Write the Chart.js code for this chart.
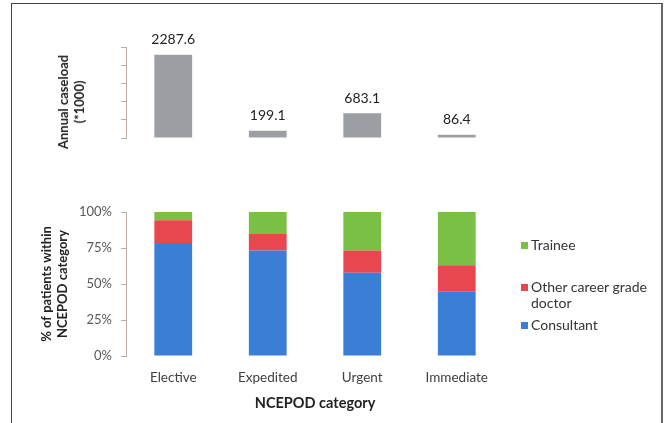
<!DOCTYPE html>
<html>
<head>
<meta charset="utf-8">
<script src="https://cdn.jsdelivr.net/npm/chart.js@4"></script>
<style>
  body { margin: 0; background: #fff; }
  #wrap { position: relative; width: 670px; height: 423px; overflow: hidden; font-family: Lato, sans-serif; }
  #frame { position: absolute; left: 11px; top: 3px; width: 649px; height: 440px; border: 1px solid #444; border-right: 2px solid #666; }
  #topBox { position: absolute; left: 0; top: 0; width: 670px; height: 175px; }
  #botBox { position: absolute; left: 0; top: 190px; width: 670px; height: 233px; }
  #topTitle { position: absolute; left: 71px; top: 102px; transform: translate(-50%, -50%) rotate(-90deg);
    white-space: nowrap; text-align: center; font-size: 13px; font-weight: bold; line-height: 16px; color: #222; }
  .leg { position: absolute; left: 521px; font-size: 14px; color: #333; line-height: 16px; }
  .leg i { position: absolute; left: 0; top: 5px; width: 7px; height: 7px; }
  .leg span { display: block; padding-left: 10px; }
</style>
</head>
<body>
<div id="wrap">
  <div id="frame"></div>
  <div id="topBox"><canvas id="caseload"></canvas></div>
  <div id="topTitle">Annual caseload<br>(*1000)</div>
  <div id="botBox"><canvas id="grades"></canvas></div>
  <div id="legend"></div>
</div>
<script>
// categories and values
const categories = ['Elective', 'Expedited', 'Urgent', 'Immediate'];
const caseload = [2287.6, 199.1, 683.1, 86.4];      // annual caseload (*1000)
const consultant = [78.5, 73.2, 57.8, 45.0];         // % of patients
const otherCareer = [15.7, 11.6, 15.4, 18.0];
const trainee = [5.8, 15.2, 26.8, 37.0];
const pctTicks = [0, 25, 50, 75, 100];

const axisColor = '#b8aea6';
const fontFam = 'Lato, sans-serif';

// value labels above the caseload bars
const barLabels = {
  id: 'barLabels',
  afterDatasetsDraw(chart) {
    const ctx = chart.ctx;
    const meta = chart.getDatasetMeta(0);
    ctx.save();
    ctx.font = '14px ' + fontFam;
    ctx.fillStyle = '#222';
    ctx.textAlign = 'center';
    ctx.textBaseline = 'middle';
    meta.data.forEach((bar, i) => {
      ctx.fillText(caseload[i].toFixed(1), bar.x, bar.y - 15);
    });
    ctx.restore();
  }
};

new Chart(document.getElementById('caseload'), {
  type: 'bar',
  data: {
    labels: categories,
    datasets: [{
      data: caseload,
      backgroundColor: '#9b9fa4',
      barPercentage: 0.4,
      categoryPercentage: 1
    }]
  },
  options: {
    responsive: true,
    maintainAspectRatio: false,
    animation: false,
    layout: { padding: { left: 0, right: 166, top: 47, bottom: 37 } },
    plugins: { legend: { display: false }, tooltip: { enabled: false } },
    scales: {
      x: { display: false },
      y: {
        min: 0, max: 2500,
        ticks: { display: false, stepSize: 500 },
        grid: { drawOnChartArea: false, tickLength: 5, tickColor: axisColor },
        border: { color: axisColor },
        afterFit(s) { s.width = 126; }
      }
    }
  },
  plugins: [barLabels]
});

new Chart(document.getElementById('grades'), {
  type: 'bar',
  data: {
    labels: categories,
    datasets: [
      { label: 'Consultant', data: consultant, backgroundColor: '#3b7ed6' },
      { label: 'Other career grade doctor', data: otherCareer, backgroundColor: '#e8474f' },
      { label: 'Trainee', data: trainee, backgroundColor: '#79c045' }
    ].map(d => Object.assign(d, { barPercentage: 0.4, categoryPercentage: 1 }))
  },
  options: {
    responsive: true,
    maintainAspectRatio: false,
    animation: false,
    layout: { padding: { left: 0, right: 166, top: 22, bottom: 0 } },
    plugins: { legend: { display: false }, tooltip: { enabled: false } },
    scales: {
      x: {
        stacked: true,
        grid: { display: false, drawTicks: false },
        border: { display: false },
        ticks: { color: '#404040', font: { family: fontFam, size: 13.5 }, padding: 14 },
        title: {
          display: true,
          text: 'NCEPOD category',
          color: '#222',
          font: { family: fontFam, size: 14.5, weight: 'bold', lineHeight: '17px' },
          padding: { top: 0, bottom: 11 }
        },
        afterFit(s) { s.height = 67; }
      },
      y: {
        stacked: true,
        min: 0, max: 100,
        afterBuildTicks(s) { s.ticks = pctTicks.map(v => ({ value: v })); },
        ticks: {
          color: '#595959',
          font: { family: fontFam, size: 13 },
          padding: 9,
          callback: v => v + '%'
        },
        grid: { drawOnChartArea: false, tickLength: 5, tickColor: axisColor },
        border: { color: axisColor },
        title: {
          display: true,
          text: ['% of patients within', 'NCEPOD category'],
          font: { family: fontFam, size: 13, weight: 'bold', lineHeight: '16px' },
          color: '#222',
          padding: { top: 39, bottom: 0 }
        },
        afterFit(s) { s.width = 126; }
      }
    }
  }
});

// legend, listed top to bottom like the stack
const legendItems = [
  { lines: ['Trainee'], color: '#79c045', top: 237 },
  { lines: ['Other career grade', 'doctor'], color: '#e8474f', top: 279 },
  { lines: ['Consultant'], color: '#3b7ed6', top: 317 }
];
const legendEl = document.getElementById('legend');
legendItems.forEach(it => {
  const d = document.createElement('div');
  d.className = 'leg';
  d.style.top = it.top + 'px';
  d.innerHTML = '<i style="background:' + it.color + '"></i>' + it.lines.map(t => '<span>' + t + '</span>').join('');
  legendEl.appendChild(d);
});
</script>
</body>
</html>
